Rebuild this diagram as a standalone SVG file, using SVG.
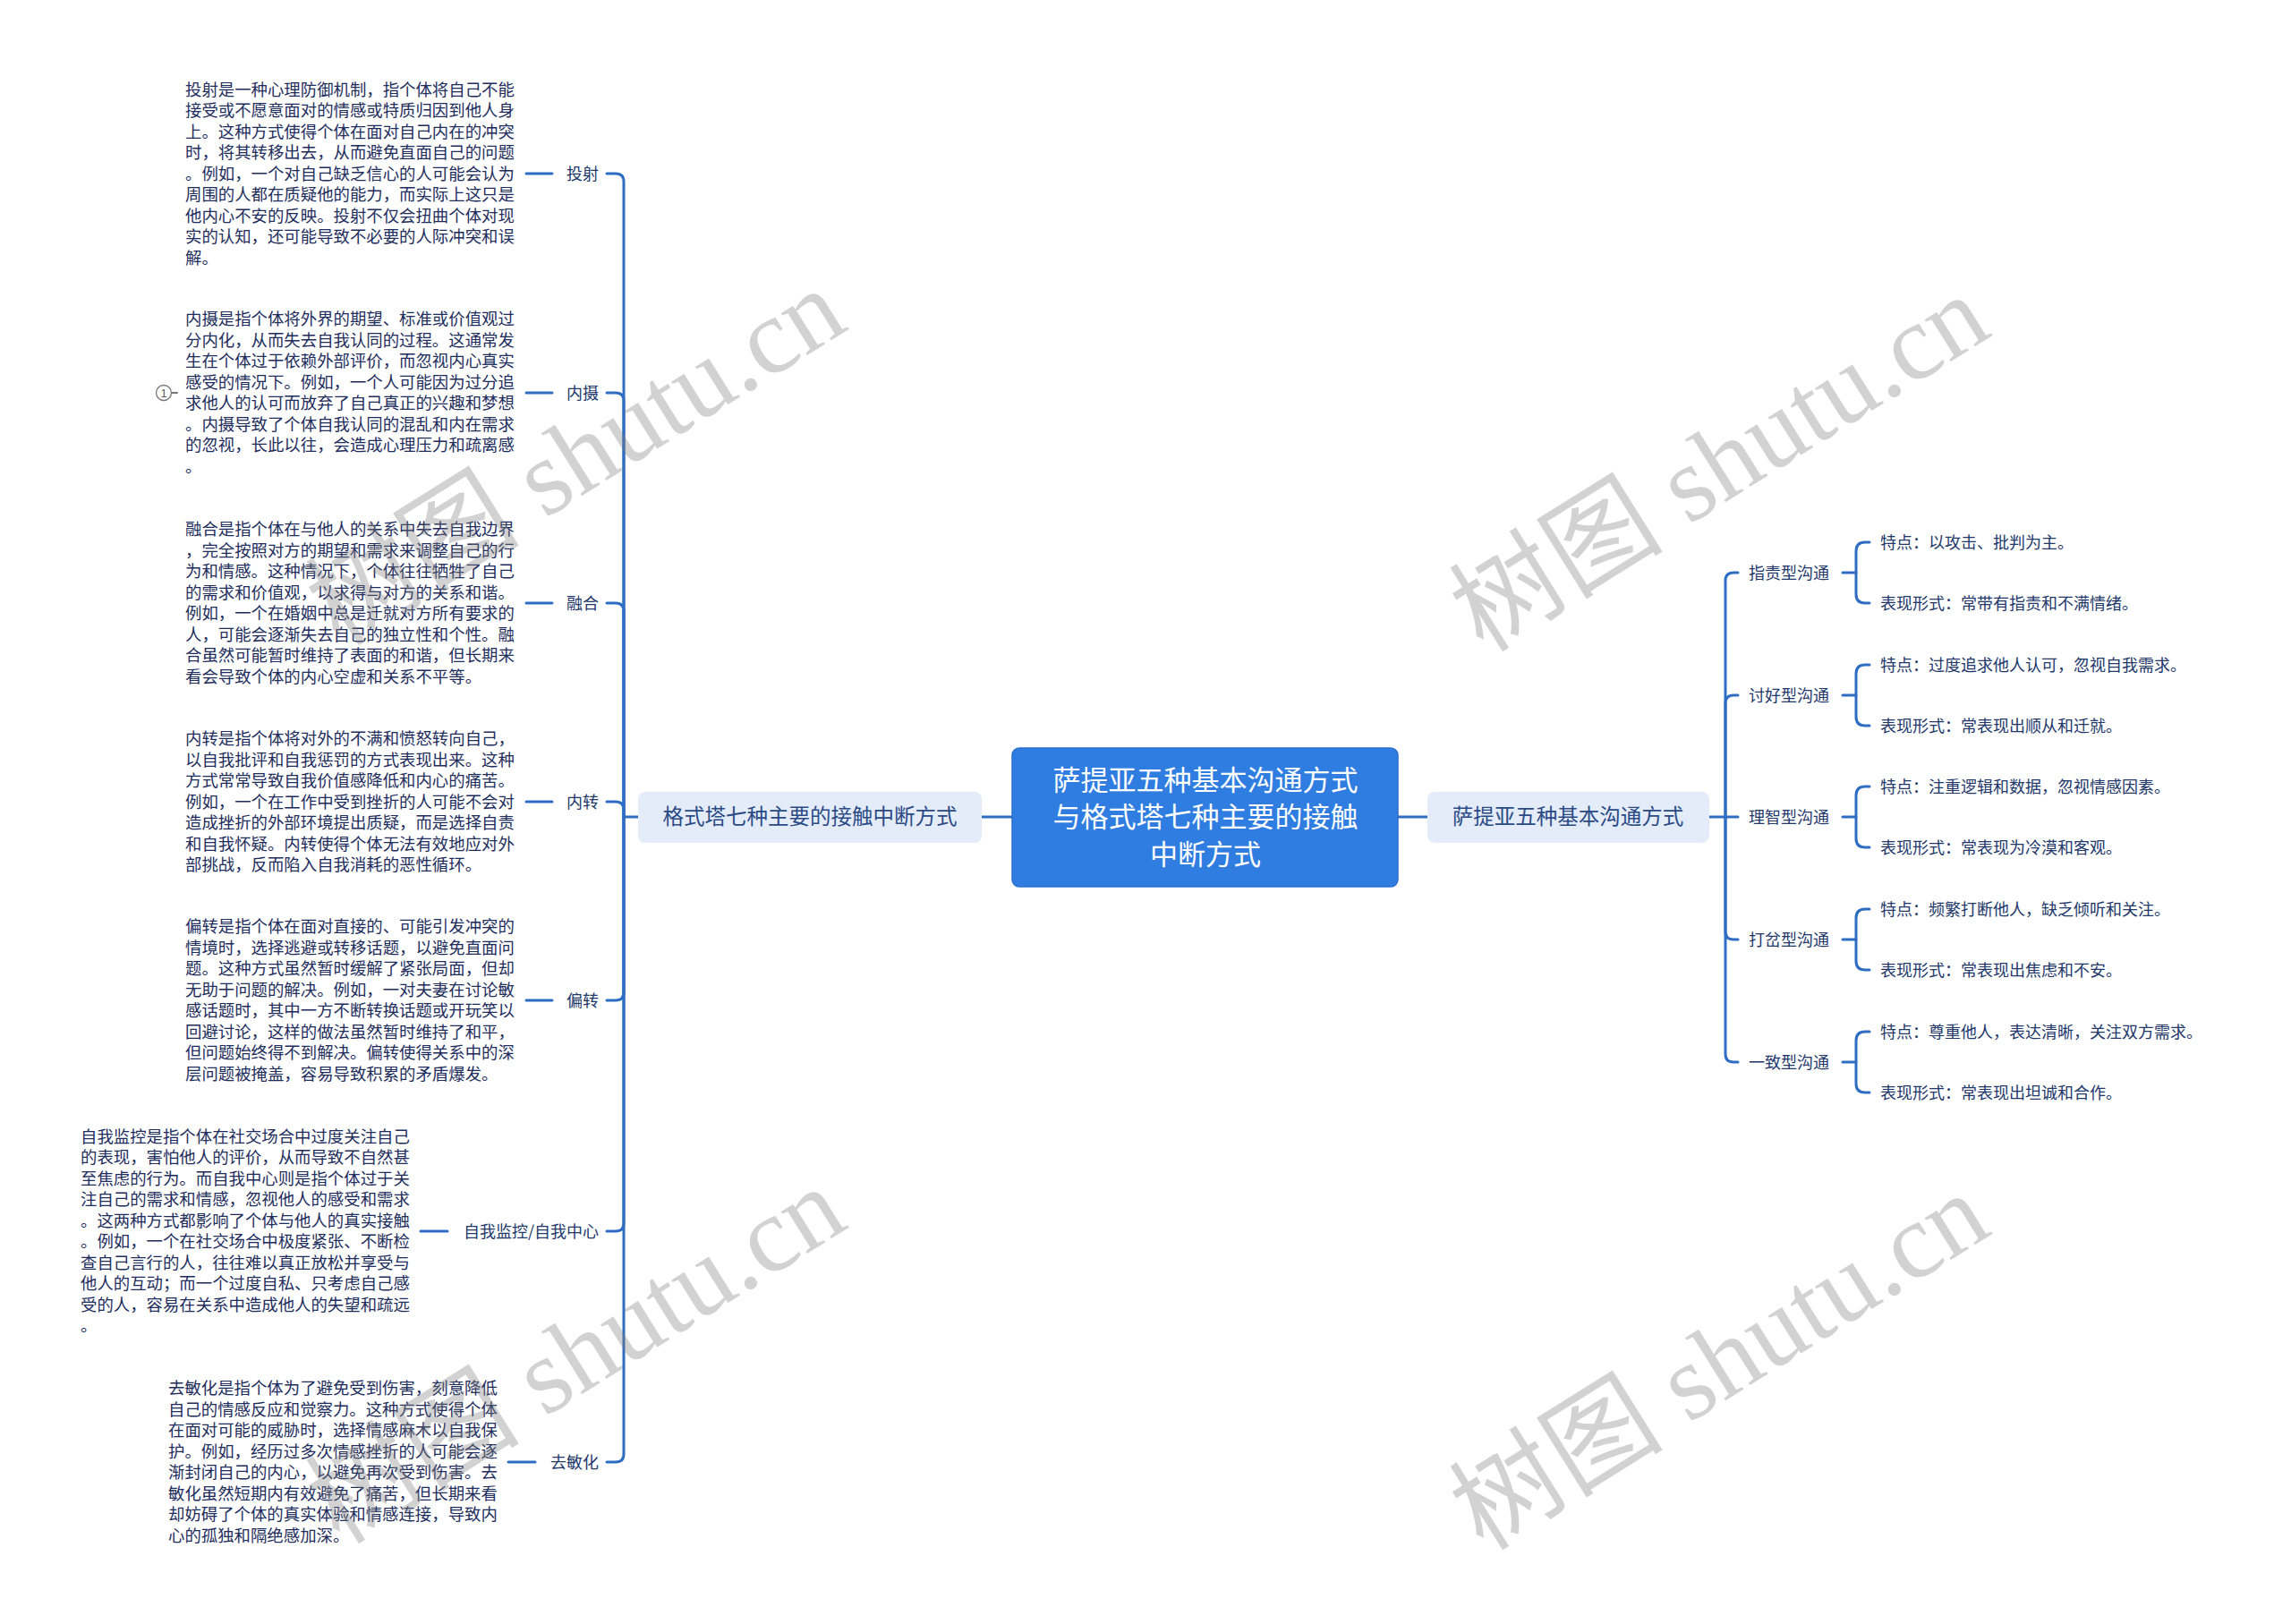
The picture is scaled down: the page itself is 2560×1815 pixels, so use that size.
<svg xmlns="http://www.w3.org/2000/svg" width="2560" height="1815" viewBox="0 0 2560 1815">
<style>
.blk{font-family:"Noto Sans CJK SC","Liberation Sans",sans-serif;font-size:18.4px;fill:#1e2d5c}
.lbl{font-family:"Noto Sans CJK SC","Liberation Sans",sans-serif;font-size:18px;fill:#22376a}
.br{font-family:"Noto Sans CJK SC","Liberation Sans",sans-serif;font-size:23.5px;fill:#2a4a85}
.ctr{font-family:"Noto Sans CJK SC","Liberation Sans",sans-serif;font-size:31px;fill:#ffffff}
.ln{fill:none;stroke:#2f6dc2;stroke-width:3;stroke-linecap:round}
.wm{font-family:"Liberation Serif","Noto Sans CJK SC",serif;font-size:120px;fill:#808080;opacity:0.35}
</style>
<rect width="2560" height="1815" fill="#ffffff"/>

<g id="connectors" class="ln">
  <path d="M1097 913 H1131"/>
  <path d="M1562 913 H1595"/>
  <path d="M713 913 H697"/>
  <path d="M697 913 V203 Q697 194 688 194 H678"/>
  <path d="M697 913 V448 Q697 439 688 439 H678"/>
  <path d="M697 913 V683 Q697 674 688 674 H678"/>
  <path d="M697 913 V905 Q697 896 688 896 H678"/>
  <path d="M697 913 V1109 Q697 1118 688 1118 H678"/>
  <path d="M697 913 V1367 Q697 1376 688 1376 H678"/>
  <path d="M697 913 V1625 Q697 1634 688 1634 H678"/>
  <path d="M588 194 H617"/>
  <path d="M588 439 H617"/>
  <path d="M588 674 H617"/>
  <path d="M588 896 H617"/>
  <path d="M588 1118 H617"/>
  <path d="M470 1376 H500"/>
  <path d="M568 1634 H598"/>
  <path d="M192 439 H198" stroke="#777" stroke-width="2"/>
  <path d="M1910 913 H1942"/>
  <path d="M1928 913 V649 Q1928 640 1937 640 H1942"/>
  <path d="M1928 913 V786 Q1928 777 1937 777 H1942"/>
  <path d="M1928 913 V1041 Q1928 1050 1937 1050 H1942"/>
  <path d="M1928 913 V1178 Q1928 1187 1937 1187 H1942"/>
  <path d="M2059 640 H2074"/>
  <path d="M2089 606 H2084 Q2074 606 2074 616 V664 Q2074 674 2084 674 H2089"/>
  <path d="M2059 777 H2074"/>
  <path d="M2089 743 H2084 Q2074 743 2074 753 V801 Q2074 811 2084 811 H2089"/>
  <path d="M2059 913 H2074"/>
  <path d="M2089 879 H2084 Q2074 879 2074 889 V937 Q2074 947 2084 947 H2089"/>
  <path d="M2059 1050 H2074"/>
  <path d="M2089 1016 H2084 Q2074 1016 2074 1026 V1074 Q2074 1084 2084 1084 H2089"/>
  <path d="M2059 1187 H2074"/>
  <path d="M2089 1153 H2084 Q2074 1153 2074 1163 V1211 Q2074 1221 2084 1221 H2089"/>
</g>

<g id="center">
  <rect x="1131" y="836" width="431" height="155" rx="8" fill="#2f7de1" stroke="#2a6fcf" stroke-width="1.5"/>
  <text class="ctr" text-anchor="middle"><tspan x="1347" y="883">萨提亚五种基本沟通方式</tspan><tspan x="1347" y="924">与格式塔七种主要的接触</tspan><tspan x="1347" y="966">中断方式</tspan></text>
</g>

<g id="gestalt">
  <rect x="713" y="885" width="384" height="57" rx="8" fill="#e4ecfa"/>
  <text class="br" x="905" y="921" text-anchor="middle">格式塔七种主要的接触中断方式</text>
</g>
<g id="satir">
  <rect x="1595" y="885" width="315" height="57" rx="8" fill="#e4ecfa"/>
  <text class="br" x="1752" y="921" text-anchor="middle">萨提亚五种基本沟通方式</text>
</g>

<g id="projection">
  <text class="lbl" x="669" y="200.5" text-anchor="end">投射</text>
  <text class="blk"><tspan x="207" y="106.5">投射是一种心理防御机制，指个体将自己不能</tspan><tspan x="207" dy="23.5">接受或不愿意面对的情感或特质归因到他人身</tspan><tspan x="207" dy="23.5">上。这种方式使得个体在面对自己内在的冲突</tspan><tspan x="207" dy="23.5">时，将其转移出去，从而避免直面自己的问题</tspan><tspan x="207" dy="23.5">。例如，一个对自己缺乏信心的人可能会认为</tspan><tspan x="207" dy="23.5">周围的人都在质疑他的能力，而实际上这只是</tspan><tspan x="207" dy="23.5">他内心不安的反映。投射不仅会扭曲个体对现</tspan><tspan x="207" dy="23.5">实的认知，还可能导致不必要的人际冲突和误</tspan><tspan x="207" dy="23.5">解。</tspan></text>
</g>

<g id="introjection">
  <text class="lbl" x="669" y="445.5" text-anchor="end">内摄</text>
  <circle cx="183" cy="439" r="8.5" fill="#fff" stroke="#777" stroke-width="1.3"/>
  <text x="183" y="443.5" text-anchor="middle" font-family="Liberation Sans,sans-serif" font-size="12" fill="#555">1</text>
  <text class="blk"><tspan x="207" y="363">内摄是指个体将外界的期望、标准或价值观过</tspan><tspan x="207" dy="23.5">分内化，从而失去自我认同的过程。这通常发</tspan><tspan x="207" dy="23.5">生在个体过于依赖外部评价，而忽视内心真实</tspan><tspan x="207" dy="23.5">感受的情况下。例如，一个人可能因为过分追</tspan><tspan x="207" dy="23.5">求他人的认可而放弃了自己真正的兴趣和梦想</tspan><tspan x="207" dy="23.5">。内摄导致了个体自我认同的混乱和内在需求</tspan><tspan x="207" dy="23.5">的忽视，长此以往，会造成心理压力和疏离感</tspan><tspan x="207" dy="23.5">。</tspan></text>
</g>

<g id="confluence">
  <text class="lbl" x="669" y="680.5" text-anchor="end">融合</text>
  <text class="blk"><tspan x="207" y="598">融合是指个体在与他人的关系中失去自我边界</tspan><tspan x="207" dy="23.5">，完全按照对方的期望和需求来调整自己的行</tspan><tspan x="207" dy="23.5">为和情感。这种情况下，个体往往牺牲了自己</tspan><tspan x="207" dy="23.5">的需求和价值观，以求得与对方的关系和谐。</tspan><tspan x="207" dy="23.5">例如，一个在婚姻中总是迁就对方所有要求的</tspan><tspan x="207" dy="23.5">人，可能会逐渐失去自己的独立性和个性。融</tspan><tspan x="207" dy="23.5">合虽然可能暂时维持了表面的和谐，但长期来</tspan><tspan x="207" dy="23.5">看会导致个体的内心空虚和关系不平等。</tspan></text>
</g>

<g id="retroflection">
  <text class="lbl" x="669" y="902.5" text-anchor="end">内转</text>
  <text class="blk"><tspan x="207" y="832">内转是指个体将对外的不满和愤怒转向自己，</tspan><tspan x="207" dy="23.5">以自我批评和自我惩罚的方式表现出来。这种</tspan><tspan x="207" dy="23.5">方式常常导致自我价值感降低和内心的痛苦。</tspan><tspan x="207" dy="23.5">例如，一个在工作中受到挫折的人可能不会对</tspan><tspan x="207" dy="23.5">造成挫折的外部环境提出质疑，而是选择自责</tspan><tspan x="207" dy="23.5">和自我怀疑。内转使得个体无法有效地应对外</tspan><tspan x="207" dy="23.5">部挑战，反而陷入自我消耗的恶性循环。</tspan></text>
</g>

<g id="deflection">
  <text class="lbl" x="669" y="1124.5" text-anchor="end">偏转</text>
  <text class="blk"><tspan x="207" y="1042">偏转是指个体在面对直接的、可能引发冲突的</tspan><tspan x="207" dy="23.5">情境时，选择逃避或转移话题，以避免直面问</tspan><tspan x="207" dy="23.5">题。这种方式虽然暂时缓解了紧张局面，但却</tspan><tspan x="207" dy="23.5">无助于问题的解决。例如，一对夫妻在讨论敏</tspan><tspan x="207" dy="23.5">感话题时，其中一方不断转换话题或开玩笑以</tspan><tspan x="207" dy="23.5">回避讨论，这样的做法虽然暂时维持了和平，</tspan><tspan x="207" dy="23.5">但问题始终得不到解决。偏转使得关系中的深</tspan><tspan x="207" dy="23.5">层问题被掩盖，容易导致积累的矛盾爆发。</tspan></text>
</g>

<g id="selfmonitor">
  <text class="lbl" x="669" y="1382.5" text-anchor="end">自我监控/自我中心</text>
  <text class="blk"><tspan x="90" y="1276.5">自我监控是指个体在社交场合中过度关注自己</tspan><tspan x="90" dy="23.5">的表现，害怕他人的评价，从而导致不自然甚</tspan><tspan x="90" dy="23.5">至焦虑的行为。而自我中心则是指个体过于关</tspan><tspan x="90" dy="23.5">注自己的需求和情感，忽视他人的感受和需求</tspan><tspan x="90" dy="23.5">。这两种方式都影响了个体与他人的真实接触</tspan><tspan x="90" dy="23.5">。例如，一个在社交场合中极度紧张、不断检</tspan><tspan x="90" dy="23.5">查自己言行的人，往往难以真正放松并享受与</tspan><tspan x="90" dy="23.5">他人的互动；而一个过度自私、只考虑自己感</tspan><tspan x="90" dy="23.5">受的人，容易在关系中造成他人的失望和疏远</tspan><tspan x="90" dy="23.5">。</tspan></text>
</g>

<g id="desensitization">
  <text class="lbl" x="669" y="1640.5" text-anchor="end">去敏化</text>
  <text class="blk"><tspan x="188" y="1558">去敏化是指个体为了避免受到伤害，刻意降低</tspan><tspan x="188" dy="23.5">自己的情感反应和觉察力。这种方式使得个体</tspan><tspan x="188" dy="23.5">在面对可能的威胁时，选择情感麻木以自我保</tspan><tspan x="188" dy="23.5">护。例如，经历过多次情感挫折的人可能会逐</tspan><tspan x="188" dy="23.5">渐封闭自己的内心，以避免再次受到伤害。去</tspan><tspan x="188" dy="23.5">敏化虽然短期内有效避免了痛苦，但长期来看</tspan><tspan x="188" dy="23.5">却妨碍了个体的真实体验和情感连接，导致内</tspan><tspan x="188" dy="23.5">心的孤独和隔绝感加深。</tspan></text>
</g>

<g id="blaming">
  <text class="lbl" x="1954" y="646.5">指责型沟通</text>
  <text class="lbl" x="2101" y="612.5">特点：以攻击、批判为主。</text>
  <text class="lbl" x="2101" y="680.5">表现形式：常带有指责和不满情绪。</text>
</g>
<g id="placating">
  <text class="lbl" x="1954" y="783.5">讨好型沟通</text>
  <text class="lbl" x="2101" y="749.5">特点：过度追求他人认可，忽视自我需求。</text>
  <text class="lbl" x="2101" y="817.5">表现形式：常表现出顺从和迁就。</text>
</g>
<g id="computing">
  <text class="lbl" x="1954" y="919.5">理智型沟通</text>
  <text class="lbl" x="2101" y="885.5">特点：注重逻辑和数据，忽视情感因素。</text>
  <text class="lbl" x="2101" y="953.5">表现形式：常表现为冷漠和客观。</text>
</g>
<g id="distracting">
  <text class="lbl" x="1954" y="1056.5">打岔型沟通</text>
  <text class="lbl" x="2101" y="1022.5">特点：频繁打断他人，缺乏倾听和关注。</text>
  <text class="lbl" x="2101" y="1090.5">表现形式：常表现出焦虑和不安。</text>
</g>
<g id="congruent">
  <text class="lbl" x="1954" y="1193.5">一致型沟通</text>
  <text class="lbl" x="2101" y="1159.5">特点：尊重他人，表达清晰，关注双方需求。</text>
  <text class="lbl" x="2101" y="1227.5">表现形式：常表现出坦诚和合作。</text>
</g>

<g id="watermarks">
  <text class="wm" text-anchor="middle" transform="translate(665 545) rotate(-32)">树图 shutu.cn</text>
  <text class="wm" text-anchor="middle" transform="translate(1943 552) rotate(-32)">树图 shutu.cn</text>
  <text class="wm" text-anchor="middle" transform="translate(665 1549) rotate(-32)">树图 shutu.cn</text>
  <text class="wm" text-anchor="middle" transform="translate(1943 1556) rotate(-32)">树图 shutu.cn</text>
</g>
</svg>
